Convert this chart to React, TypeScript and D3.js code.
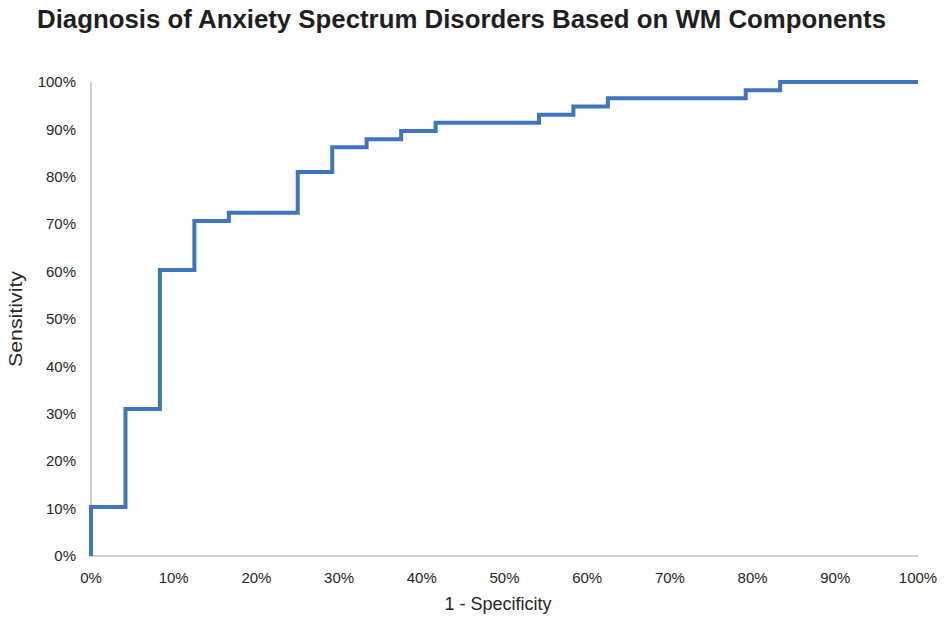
import React from 'react';
import * as d3 from 'd3';

// ROC curve points (percent)
const falsePositiveRate = [0, 0, 4.17, 8.33, 12.5, 16.67, 25, 29.17, 33.33, 37.5, 41.67, 54.17, 58.33, 62.5, 79.17, 83.33, 100];
const sensitivity = [0, 10.34, 31.03, 60.34, 70.69, 72.41, 81.03, 86.21, 87.93, 89.66, 91.38, 93.1, 94.83, 96.55, 98.28, 100, 100];
const tickValues = [0, 10, 20, 30, 40, 50, 60, 70, 80, 90, 100];

const title = 'Diagnosis of Anxiety Spectrum Disorders Based on WM Components';
const xTitle = '1 - Specificity';
const yTitle = 'Sensitivity';

const width = 945;
const height = 622;
const margin = { top: 82, right: 27, bottom: 66, left: 91 };

const App: React.FC = () => {
  const innerWidth = width - margin.left - margin.right;
  const innerHeight = height - margin.top - margin.bottom;

  const x = d3.scaleLinear().domain([0, 100]).range([0, innerWidth]);
  const y = d3.scaleLinear().domain([0, 100]).range([innerHeight, 0]);

  const points = falsePositiveRate.map((f, i) => [f, sensitivity[i]] as [number, number]);
  const line = d3.line<[number, number]>()
    .x(d => x(d[0]))
    .y(d => y(d[1]))
    .curve(d3.curveStepAfter);

  const font = 'Arial, "Liberation Sans", Helvetica, sans-serif';

  return (
    <svg
      width={width}
      height={height}
      style={{ position: 'absolute', left: 0, top: 0, background: '#fff' }}
      fontFamily={font}
    >
      <text x={37} y={28} fontSize={25.8} fontWeight="bold" fill="#1f1f1f">{title}</text>
      <g transform={`translate(${margin.left},${margin.top})`}>
        <line x1={0} x2={0} y1={0} y2={innerHeight} stroke="#bfbfbf" strokeWidth={1.5} />
        <line x1={0} x2={innerWidth} y1={innerHeight} y2={innerHeight} stroke="#bfbfbf" strokeWidth={1.5} />
        {tickValues.map(t => (
          <text key={`y${t}`} x={-15} y={y(t)} dy="0.35em" textAnchor="end" fontSize={15} fill="#262626">
            {t}%
          </text>
        ))}
        {tickValues.map(t => (
          <text key={`x${t}`} x={x(t)} y={innerHeight + 27} textAnchor="middle" fontSize={15} fill="#262626">
            {t}%
          </text>
        ))}
        <path d={line(points) || ''} fill="none" stroke="#3f75be" strokeWidth={4} strokeLinejoin="miter" />
      </g>
      <text x={498} y={610} textAnchor="middle" fontSize={18} fill="#262626">{xTitle}</text>
      <text
        transform={`translate(22,${margin.top + innerHeight / 2}) rotate(-90)`}
        textAnchor="middle"
        fontSize={18}
        textLength={96}
        lengthAdjust="spacingAndGlyphs"
        fill="#262626"
      >
        {yTitle}
      </text>
    </svg>
  );
};

export default App;
